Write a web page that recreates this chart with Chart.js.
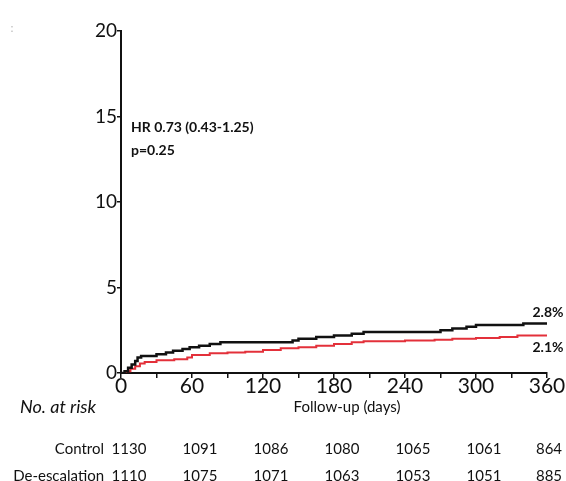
<!DOCTYPE html>
<html>
<head>
<meta charset="utf-8">
<script src="https://cdn.jsdelivr.net/npm/chart.js@4.4.1/dist/chart.umd.min.js"></script>
<style>
  html, body { margin: 0; padding: 0; background: #fff; }
  #wrap { width: 566px; height: 481px; position: relative; }
</style>
</head>
<body>
<div id="wrap"><canvas id="myChart" width="566" height="481"></canvas></div>
<script>
"use strict"
// Kaplan-Meier Kurven (Tage, kumulative Ereignisse in %)
const controlDays = [0, 3, 6, 9, 12, 14, 17, 30, 38, 44, 52, 58, 66, 75, 84, 145, 150, 165, 180, 195, 205, 270, 280, 292, 300, 340, 360]
const controlRisk = [0, 0.1, 0.3, 0.5, 0.7, 0.9, 1.0, 1.1, 1.2, 1.3, 1.4, 1.5, 1.6, 1.7, 1.8, 1.9, 2.0, 2.1, 2.2, 2.3, 2.4, 2.5, 2.6, 2.7, 2.8, 2.9, 2.9]
const deescDays = [0, 4, 8, 12, 16, 20, 30, 45, 56, 60, 75, 90, 105, 120, 135, 150, 165, 180, 195, 205, 240, 265, 280, 300, 320, 335, 360]
const deescRisk = [0, 0.1, 0.25, 0.4, 0.55, 0.65, 0.75, 0.8, 0.9, 1.05, 1.15, 1.2, 1.25, 1.35, 1.45, 1.5, 1.6, 1.7, 1.8, 1.85, 1.9, 1.95, 2.0, 2.05, 2.1, 2.2, 2.2]

// No. at risk Tabelle
const riskDays = [0, 60, 120, 180, 240, 300, 360]
const riskControl = [1130, 1091, 1086, 1080, 1065, 1061, 864]
const riskDeesc = [1110, 1075, 1071, 1063, 1053, 1051, 885]
const groupNames = ["Control", "De-escalation"]
const endLabels = ["2.8%", "2.1%"]

const fontName = "Lato, 'Open Sans', sans-serif"

function toPoints(xs, ys) {
    return xs.map((x, i) => ({ x: x, y: ys[i] }))
}

// Texte: HR, Endwerte, Tabelle
const textPlugin = {
    id: 'texts',
    afterDraw(chart) {
        const ctx = chart.ctx
        const xs = chart.scales.x
        const area = chart.chartArea
        ctx.save()
        ctx.fillStyle = '#111'
        ctx.textBaseline = 'middle'

        ctx.font = "bold 14px " + fontName
        ctx.textAlign = 'left'
        ctx.fillText("HR 0.73 (0.43-1.25)", area.left + 10, 127)
        ctx.fillText("p=0.25", area.left + 10, 150)

        ctx.textAlign = 'center'
        ctx.fillText(endLabels[0], 548, 312)
        ctx.fillText(endLabels[1], 548, 347)

        ctx.fillStyle = '#bbb'
        ctx.font = "12px " + fontName
        ctx.fillText(":", 12, 28)

        ctx.fillStyle = '#111'
        ctx.font = "15px " + fontName
        ctx.fillText("Follow-up (days)", 347, 407)
        ctx.font = "italic 18px " + fontName
        ctx.textAlign = 'left'
        ctx.fillText("No. at risk", 20, 407)

        ctx.font = "15px " + fontName
        ctx.textAlign = 'right'
        ctx.fillText(groupNames[0], 104, 449)
        ctx.fillText(groupNames[1], 104, 476)
        ctx.textAlign = 'center'
        riskDays.forEach((d, i) => {
            const px = xs.getPixelForValue(d) + (i === riskDays.length - 1 ? 2 : 8)
            ctx.fillText(String(riskControl[i]), px, 449)
            ctx.fillText(String(riskDeesc[i]), px, 476)
        })
        ctx.restore()
    }
}

const config = {
    type: 'line',
    data: {
        datasets: [{
            label: groupNames[0],
            data: toPoints(controlDays, controlRisk),
            borderColor: '#111',
            borderWidth: 2.5,
            pointRadius: 0,
            stepped: 'before',
            fill: false
        }, {
            label: groupNames[1],
            data: toPoints(deescDays, deescRisk),
            borderColor: '#e3303a',
            borderWidth: 2,
            pointRadius: 0,
            stepped: 'before',
            fill: false
        }]
    },
    options: {
        responsive: false,
        animation: false,
        layout: { padding: { left: 0, right: 19, top: 31, bottom: 0 } },
        plugins: { legend: { display: false }, tooltip: { enabled: false } },
        scales: {
            x: {
                type: 'linear',
                min: 0, max: 360,
                afterFit(scale) { scale.height = 108 },
                border: { color: '#111', width: 2 },
                grid: { drawOnChartArea: false, drawTicks: true, tickLength: 5, color: '#111', lineWidth: 1.5 },
                ticks: {
                    stepSize: 30,
                    autoSkip: false,
                    maxRotation: 0,
                    padding: -4,
                    color: '#111',
                    font: { family: fontName, size: 21 },
                    callback: v => (v % 60 === 0 ? String(v) : '')
                }
            },
            y: {
                min: 0, max: 20,
                afterFit(scale) { scale.width = 121 },
                border: { color: '#111', width: 2 },
                grid: { drawOnChartArea: false, drawTicks: true, tickLength: 4, color: '#111', lineWidth: 1.5 },
                ticks: {
                    stepSize: 5,
                    padding: 0,
                    color: '#111',
                    font: { family: fontName, size: 19 }
                }
            }
        }
    },
    plugins: [textPlugin]
}

new Chart(document.getElementById('myChart'), config)
</script>
</body>
</html>
